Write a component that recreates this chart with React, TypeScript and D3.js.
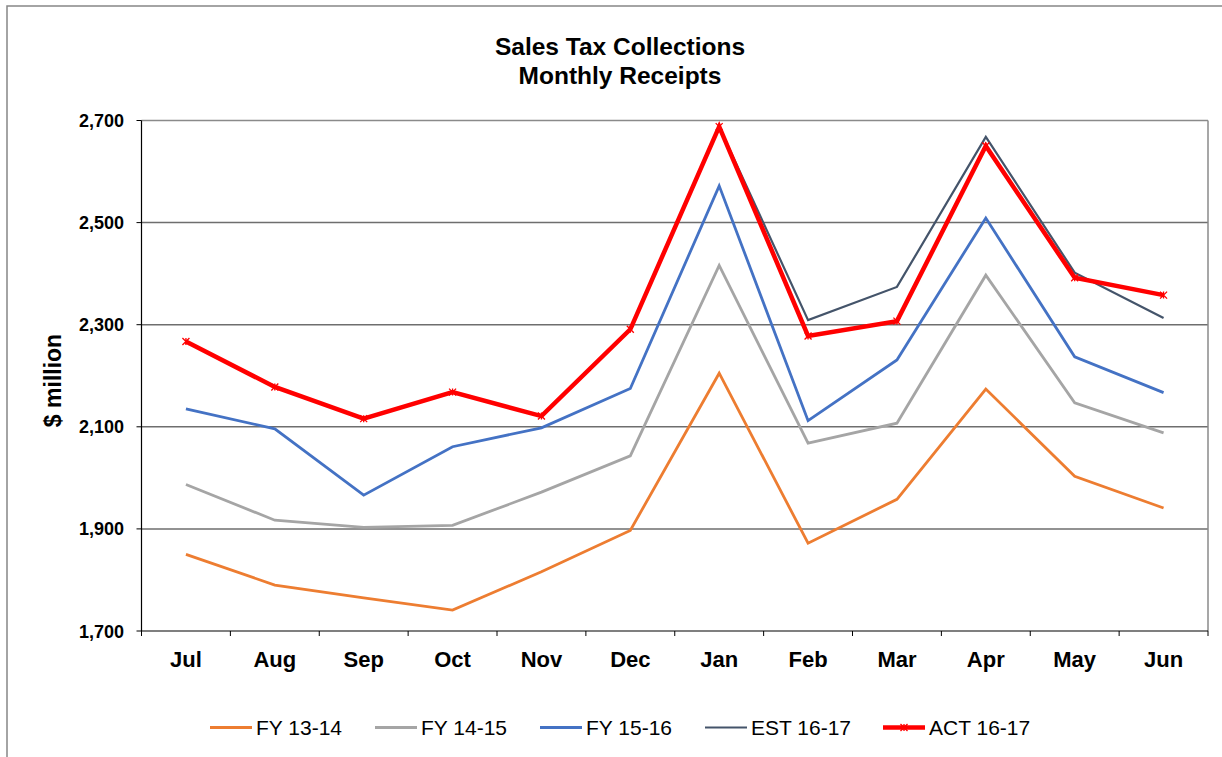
import React from 'react';
import * as d3 from 'd3';

const months = ['Jul', 'Aug', 'Sep', 'Oct', 'Nov', 'Dec', 'Jan', 'Feb', 'Mar', 'Apr', 'May', 'Jun'];
const fy1314 = [1850, 1790, 1765, 1741, 1816, 1897, 2205, 1872, 1958, 2174, 2003, 1941];
const fy1415 = [1987, 1917, 1903, 1907, 1972, 2043, 2416, 2068, 2107, 2397, 2147, 2088];
const fy1516 = [2135, 2096, 1966, 2061, 2098, 2175, 2572, 2112, 2231, 2509, 2237, 2167];
const est1617 = [2267, 2178, 2116, 2168, 2121, 2291, 2688, 2309, 2374, 2668, 2402, 2313];
const act1617 = [2267, 2178, 2116, 2168, 2121, 2291, 2688, 2278, 2307, 2650, 2392, 2358];
const yTicks = [1700, 1900, 2100, 2300, 2500, 2700];

const series = [
  { name: 'FY 13-14', values: fy1314, color: '#ED7D31', width: 2.8 },
  { name: 'FY 14-15', values: fy1415, color: '#A5A5A5', width: 2.8 },
  { name: 'FY 15-16', values: fy1516, color: '#4472C4', width: 2.8 },
  { name: 'EST 16-17', values: est1617, color: '#44546A', width: 2.2 },
  { name: 'ACT 16-17', values: act1617, color: '#FF0000', width: 4.5 },
];

const font = '"Liberation Sans", Arial, sans-serif';

export default function App() {
  const left = 141.5, right = 1208, top = 120.5, bottom = 631;

  const x = d3.scaleBand().domain(months).range([left, right]);
  const y = d3.scaleLinear().domain([1700, 2700]).range([bottom, top]);
  const cx = (m: string) => (x(m) as number) + x.bandwidth() / 2;

  const line = d3.line<number>()
    .x((_, i) => cx(months[i]))
    .y(d => y(d));

  const star = (px: number, py: number, r: number) =>
    `M${px - r},${py - r}L${px + r},${py + r}M${px - r},${py + r}L${px + r},${py - r}M${px},${py - r}L${px},${py + r}`;

  // legend item start positions
  const legendX = [210, 375, 540, 705, 883];

  return (
    <svg width={1222} height={757} style={{ position: 'absolute', left: 0, top: 0 }}>
      <rect x={0} y={0} width={1222} height={757} fill="#fff" />
      <rect x={7} y={6} width={1300} height={800} fill="none" stroke="#878787" strokeWidth={1.5} />

      <text x={620} y={55} textAnchor="middle" fontFamily={font} fontWeight="bold" fontSize={24.5}>Sales Tax Collections</text>
      <text x={620} y={84} textAnchor="middle" fontFamily={font} fontWeight="bold" fontSize={24.5}>Monthly Receipts</text>

      {yTicks.map(t => (
        <g key={t}>
          {t !== 1700 && (
            <line x1={left} x2={right} y1={y(t)} y2={y(t)} stroke={t === 2700 ? '#8a8a8a' : '#6e6e6e'} strokeWidth={1.5} />
          )}
          <line x1={left - 5} x2={left} y1={y(t)} y2={y(t)} stroke="#000" strokeWidth={1} />
          <text x={124} y={y(t) + 6.5} textAnchor="end" fontFamily={font} fontWeight="bold" fontSize={18}>
            {d3.format(',')(t)}
          </text>
        </g>
      ))}
      <line x1={right} x2={right} y1={top} y2={bottom} stroke="#8a8a8a" strokeWidth={1.5} />
      <line x1={left} x2={left} y1={top} y2={bottom} stroke="#000" strokeWidth={1.2} />
      <line x1={left} x2={right} y1={bottom} y2={bottom} stroke="#000" strokeWidth={1.2} />
      {months.map((m, i) => (
        <g key={m}>
          <line x1={x(m) as number} x2={x(m) as number} y1={bottom} y2={bottom + 5} stroke="#000" strokeWidth={1} />
          <text x={cx(m)} y={667} textAnchor="middle" fontFamily={font} fontWeight="bold" fontSize={22}>{m}</text>
          {i === months.length - 1 && (
            <line x1={right} x2={right} y1={bottom} y2={bottom + 5} stroke="#000" strokeWidth={1} />
          )}
        </g>
      ))}

      <text transform="translate(61,380.5) rotate(-90)" textAnchor="middle" fontFamily={font} fontWeight="bold" fontSize={23}>$ million</text>

      {series.map(s => (
        <path key={s.name} d={line(s.values) || ''} fill="none" stroke={s.color} strokeWidth={s.width} strokeLinejoin="miter" />
      ))}
      {act1617.map((v, i) => (
        <path key={i} d={star(cx(months[i]), y(v), 3.5)} stroke="#FF0000" strokeWidth={1.3} fill="none" />
      ))}

      {series.map((s, i) => (
        <g key={s.name}>
          <line x1={legendX[i]} x2={legendX[i] + 42} y1={727.5} y2={727.5} stroke={s.color} strokeWidth={s.width} />
          {s.name === 'ACT 16-17' && (
            <path d={star(legendX[i] + 21, 727.5, 3.5)} stroke="#FF0000" strokeWidth={1.3} fill="none" />
          )}
          <text x={legendX[i] + 46} y={735} fontFamily={font} fontSize={21}>{s.name}</text>
        </g>
      ))}
    </svg>
  );
}
